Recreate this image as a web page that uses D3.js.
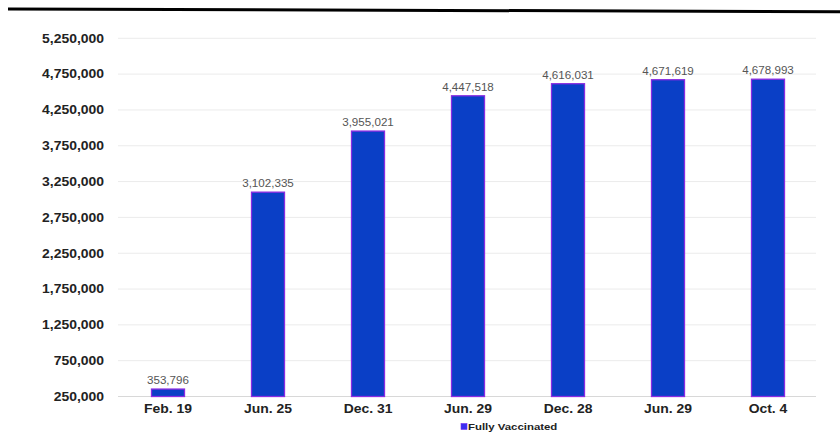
<!DOCTYPE html>
<html>
<head>
<meta charset="utf-8">
<script src="https://cdn.jsdelivr.net/npm/d3@7"></script>
<style>
  html, body { margin: 0; padding: 0; background: #fff; }
  svg { display: block; }
</style>
</head>
<body>
<svg id="chart" width="840" height="432"></svg>
<script>
const categories = ["Feb. 19", "Jun. 25", "Dec. 31", "Jun. 29", "Dec. 28", "Jun. 29", "Oct. 4"];
const fullyVaccinated = [353796, 3102335, 3955021, 4447518, 4616031, 4671619, 4678993];
const yTicks = [250000, 750000, 1250000, 1750000, 2250000, 2750000, 3250000, 3750000, 4250000, 4750000, 5250000];
const seriesName = "Fully Vaccinated";

(function () {
const svg = d3.select("#chart");
const mLeft = 118, mRight = 818, mTop = 38.3, mBottom = 396.5;
const FONT = "Liberation Sans, Arial, sans-serif";
const STRETCH = 1.16;

const x = d3.scaleBand().domain(d3.range(categories.length)).range([mLeft, mRight]).paddingInner(0.67).paddingOuter(0.335);
const y = d3.scaleLinear().domain([250000, 5250000]).range([mBottom, mTop]);
const fmt = d3.format(",");

function stretch(sel, k) {
  sel.each(function () {
    const w = this.getComputedTextLength();
    d3.select(this).attr("textLength", w * (k || STRETCH)).attr("lengthAdjust", "spacingAndGlyphs");
  });
}

// top rule (slightly slanted, as in reference)
svg.append("line")
  .attr("x1", 8).attr("y1", 9).attr("x2", 840).attr("y2", 11.7)
  .attr("stroke", "#000").attr("stroke-width", 3);

// gridlines
svg.append("g").selectAll("line").data(yTicks).join("line")
  .attr("x1", mLeft).attr("x2", mRight - 2)
  .attr("y1", d => y(d)).attr("y2", d => y(d))
  .attr("stroke", (d, i) => i === 0 ? "#d8d8d8" : "#ebebeb")
  .attr("stroke-width", 1);

// y axis labels
const yAxis = d3.axisLeft(y).tickValues(yTicks).tickFormat(fmt).tickSize(0).tickPadding(14);
const gy = svg.append("g").attr("transform", `translate(${mLeft},0)`).call(yAxis);
gy.select(".domain").remove();
gy.selectAll("text")
  .attr("font-family", FONT)
  .attr("font-weight", "bold")
  .attr("font-size", 12)
  .attr("fill", "#222")
  .call(stretch);

// x axis labels
const xAxis = d3.axisBottom(x).tickFormat(i => categories[i]).tickSize(0).tickPadding(8);
const gx = svg.append("g").attr("transform", `translate(0,${mBottom})`).call(xAxis);
gx.select(".domain").remove();
gx.selectAll("text")
  .attr("font-family", FONT)
  .attr("font-weight", "bold")
  .attr("font-size", 12)
  .attr("fill", "#222")
  .call(stretch);

// bars
svg.append("g").selectAll("rect").data(fullyVaccinated).join("rect")
  .attr("x", (d, i) => x(i))
  .attr("width", x.bandwidth())
  .attr("y", d => y(d))
  .attr("height", d => y(250000) - y(d))
  .attr("fill", "#0a3fc6")
  .attr("stroke", "#8a2be2")
  .attr("stroke-width", 1.3);

// value labels
svg.append("g").selectAll("text").data(fullyVaccinated).join("text")
  .attr("x", (d, i) => x(i) + x.bandwidth() / 2)
  .attr("y", d => y(d) - 5)
  .attr("text-anchor", "middle")
  .attr("font-family", FONT)
  .attr("font-size", 10)
  .attr("fill", "#555")
  .text(d => fmt(d))
  .call(stretch);

// legend
const lg = svg.append("g").attr("transform", "translate(461,423.5)");
lg.append("rect").attr("x", 0).attr("y", 0).attr("width", 6).attr("height", 6)
  .attr("fill", "#3a2ef0").attr("stroke", "#7a2bf0").attr("stroke-width", 0.6);
lg.append("text").attr("x", 7).attr("y", 6.3)
  .attr("font-family", FONT)
  .attr("font-weight", "bold")
  .attr("font-size", 9.5)
  .attr("fill", "#222")
  .text(seriesName)
  .call(stretch, 1.2);
})();
</script>
</body>
</html>
